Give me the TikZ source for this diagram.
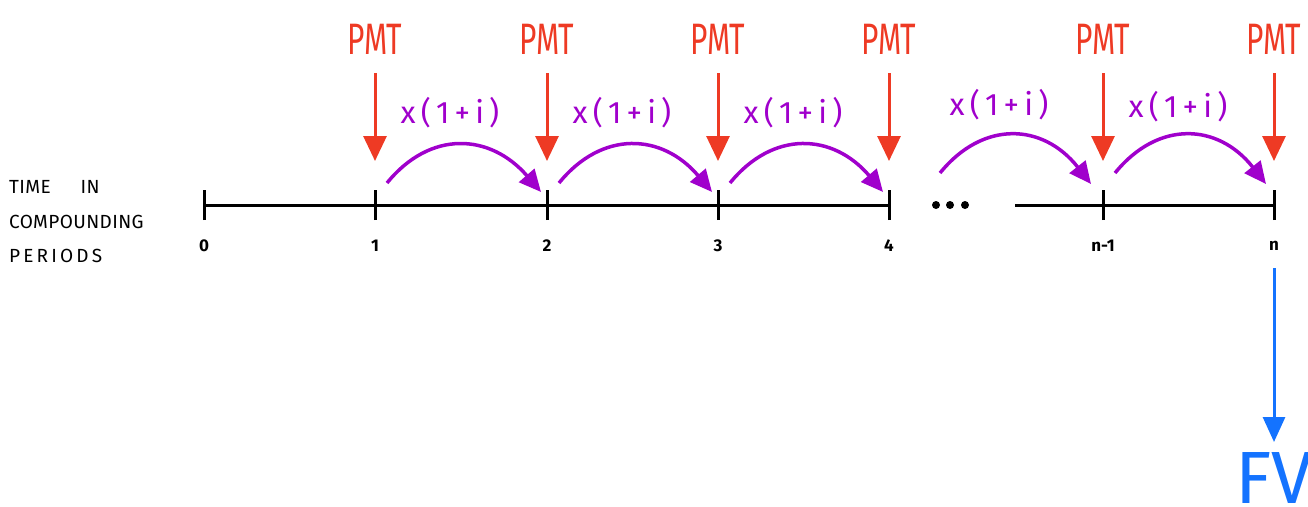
\documentclass[tikz,border=0pt]{standalone}
\usepackage{fontspec}
\setmainfont{Fira Sans}
\usetikzlibrary{arrows.meta}
\definecolor{pmtred}{HTML}{EE3A24}
\definecolor{gpurple}{HTML}{A000CC}
\definecolor{fvblue}{HTML}{1473FF}
\begin{document}
\begin{tikzpicture}[x=1pt,y=-1pt,
  axisline/.style={line width=3pt,black},
  tickmark/.style={line width=3pt,black},
  pmtarrow/.style={line width=3pt,pmtred,-{Triangle[length=25pt,width=23pt]}},
  growarrow/.style={line width=3.5pt,gpurple,-{Triangle[length=22pt,width=20pt]}},
  fvarrow/.style={line width=3pt,fvblue,-{Triangle[length=25pt,width=22pt]}},
  pmtlabel/.style={text=pmtred,font=\fontsize{44}{44}\selectfont,inner sep=0pt},
  growlabel/.style={text=gpurple,font=\fontsize{31}{31}\selectfont,inner sep=0pt},
  ticklabel/.style={text=black,font=\fontsize{17}{17}\selectfont\bfseries,inner sep=0pt},
  sidelabel/.style={text=black,font=\fontsize{19}{19}\selectfont\addfontfeature{LetterSpace=2},inner sep=0pt,anchor=west},
  fvlabel/.style={text=fvblue,font=\fontsize{74}{74}\selectfont,inner sep=0pt,anchor=base west},
  dotmark/.style={fill=black,draw=none}
]
\useasboundingbox (0,0) rectangle (1308,506);

% tick coordinates
\coordinate (t0) at (204,205);
\coordinate (t1) at (375,205);
\coordinate (t2) at (547,205);
\coordinate (t3) at (718,205);
\coordinate (t4) at (889,205);
\coordinate (t5) at (1103,205);
\coordinate (t6) at (1274,205);
\coordinate (s2) at (1015,205);

% axis
\draw[axisline] (t0) -- (t4);
\draw[axisline] (s2) -- (t6);
\foreach \i in {0,...,6}{
  \draw[tickmark] ([yshift=-15pt]t\i) -- ([yshift=15pt]t\i);
}
\fill[dotmark] (936,205) circle (4pt);
\fill[dotmark] (950,205) circle (4pt);
\fill[dotmark] (965,205) circle (4pt);

% tick labels
\node[ticklabel] (l0) at (204,246) {0};
\node[ticklabel] (l1) at (375,246) {1};
\node[ticklabel] (l2) at (547,246) {2};
\node[ticklabel] (l3) at (718,246) {3};
\node[ticklabel] (l4) at (889,246) {4};
\node[ticklabel] (l5) at (1103,246) {n-1};
\node[ticklabel] (l6) at (1274,246) {n};

% side label
\node[sidelabel] (side1) at (9,187) {TIME\hspace{30pt}IN};
\node[sidelabel] (side2) at (9,222) {COMPOUNDING};
\node[sidelabel] (side3) at (9,256) {P\,E\,R\,I\,O\,D\,S};

% PMT labels and arrows
\foreach \i/\x in {1/375,2/547,3/718,4/889,5/1103,6/1274}{
  \node[pmtlabel] (p\i) at (\x,39) {\scalebox{0.68}[1]{PMT}};
  \coordinate (ps\i) at (\x,73);
  \coordinate (pe\i) at (\x,161);
  \draw[pmtarrow] (ps\i) -- (pe\i);
}

% growth arcs
\foreach \i/\a/\b in {1/375/547,2/547/718,3/718/889}{
  \coordinate (gs\i) at (\a+12,183);
  \coordinate (ge\i) at (\b-6,192);
  \draw[growarrow] (gs\i) .. controls (\a+55,130) and (\a+115,133) .. (ge\i);
  \node[growlabel] (g\i) at (\a+75,113) {x\,(\,1\,+\,i\,)};
}
\coordinate (gs4) at (940,173);
\coordinate (ge4) at (1091,184);
\draw[growarrow] (gs4) .. controls (983,120) and (1043,123) .. (ge4);
\node[growlabel] (g4) at (999,105) {x\,(\,1\,+\,i\,)};
\coordinate (gs5) at (1115,173);
\coordinate (ge5) at (1266,184);
\draw[growarrow] (gs5) .. controls (1158,120) and (1218,123) .. (ge5);
\node[growlabel] (g5) at (1178,107) {x\,(\,1\,+\,i\,)};

% FV
\coordinate (fs) at (1274,268);
\coordinate (fe) at (1274,442);
\draw[fvarrow] (fs) -- (fe);
\node[fvlabel] (fv) at (1235,503) {FV};
\end{tikzpicture}
\end{document}
